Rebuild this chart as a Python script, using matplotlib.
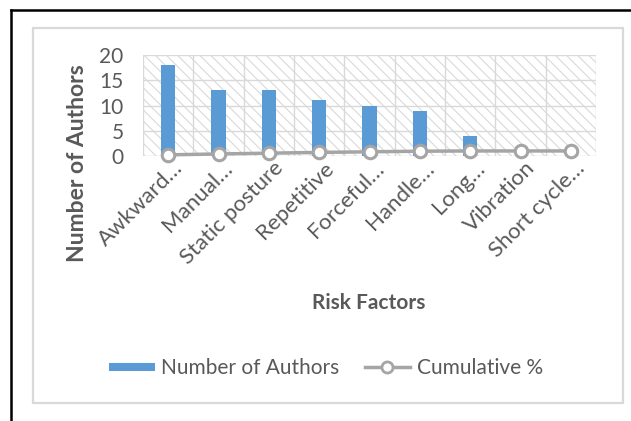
import matplotlib
matplotlib.use("Agg")
import matplotlib.pyplot as plt
from matplotlib.patches import Rectangle
from matplotlib.lines import Line2D
from matplotlib.transforms import ScaledTranslation

categories = ["Awkward…", "Manual…", "Static posture", "Repetitive", "Forceful…",
              "Handle…", "Long…", "Vibration", "Short cycle…"]
authors = [18, 13, 13, 11, 10, 9, 4, 0, 0]
cumulative = [0.23, 0.40, 0.56, 0.71, 0.83, 0.95, 1.0, 1.0, 1.0]
yticks = [0, 5, 10, 15, 20]

plt.rcParams['font.family'] = ['Lato', 'DejaVu Sans']
plt.rcParams['hatch.linewidth'] = 0.8
plt.rcParams['hatch.color'] = '#D9D9D9'

W, H = 631, 421
fig = plt.figure(figsize=(W / 100, H / 100), dpi=100)
fig.patch.set_facecolor('white')

def fx(px):
    return px / W

def fy(py):
    return 1 - py / H

TXT = '#595959'
BLUE = '#5B9BD5'
GRAY = '#A5A5A5'

# frames
fig.add_artist(Line2D([fx(11), fx(11)], [fy(10), 0], color='black', lw=1.8))
fig.add_artist(Line2D([fx(11), 1], [fy(10), fy(10)], color='black', lw=1.8))
fig.add_artist(Rectangle((fx(33), fy(403)), fx(623) - fx(33), fy(28) - fy(403),
                         transform=fig.transFigure, fill=False, ec='#D9D9D9', lw=1.6))

left, right, top, bottom = 143, 596, 55, 156
ax = fig.add_axes([fx(left), fy(bottom), fx(right) - fx(left), fy(top) - fy(bottom)])
n = len(categories)
xs = list(range(n))
ax.set_xlim(-0.5, n - 0.5)
ax.set_ylim(0, 20)

ax.add_patch(Rectangle((-0.5, 0), n, 20, facecolor='white', edgecolor='#D9D9D9', lw=0,
                       hatch='\\\\\\', zorder=0))
for y in yticks:
    ax.axhline(y, color='#D9D9D9', lw=1, zorder=1)
for i in range(n + 1):
    ax.axvline(i - 0.5, color='#D9D9D9', lw=1, zorder=1)

ax.bar(xs, authors, width=0.28, color=BLUE, zorder=2)
ax.plot(xs, cumulative, color=GRAY, lw=2.5, marker='o', markersize=9,
        markerfacecolor='white', markeredgecolor=GRAY, markeredgewidth=2.2,
        zorder=3, clip_on=False)

for s in ax.spines.values():
    s.set_visible(False)
ax.set_yticks(yticks)
ax.set_xticks(xs)
ax.set_xticklabels(categories, rotation=45, ha='right', va='top', rotation_mode='anchor')
ax.tick_params(axis='y', length=0, labelsize=15, colors=TXT, pad=14)
ax.tick_params(axis='x', length=0, labelsize=16, colors=TXT, pad=0)
off = ScaledTranslation(4 / 100, -2 / 100, fig.dpi_scale_trans)
for lab in ax.get_xticklabels():
    lab.set_transform(lab.get_transform() + off)

fig.text(fx(77), fy(163), 'Number of Authors', rotation=90, ha='center', va='center',
         fontsize=16.5, fontweight='bold', color=TXT)
fig.text(fx(369), fy(303), 'Risk Factors', ha='center', va='center',
         fontsize=15, fontweight='bold', color=TXT)

h_bar = Line2D([], [], color=BLUE, lw=5.8, solid_capstyle='butt')
h_line = Line2D([], [], color=GRAY, lw=2.5, marker='o', markersize=8,
                markerfacecolor='white', markeredgecolor=GRAY, markeredgewidth=2)
fig.legend(handles=[h_bar, h_line], labels=['Number of Authors', 'Cumulative %'],
           loc='center', bbox_to_anchor=(fx(326), fy(368)), ncol=2,
           frameon=False, fontsize=15, labelcolor=TXT, handlelength=2.2,
           handletextpad=0.3, columnspacing=1.2)

fig.savefig('out.png', dpi=100)
